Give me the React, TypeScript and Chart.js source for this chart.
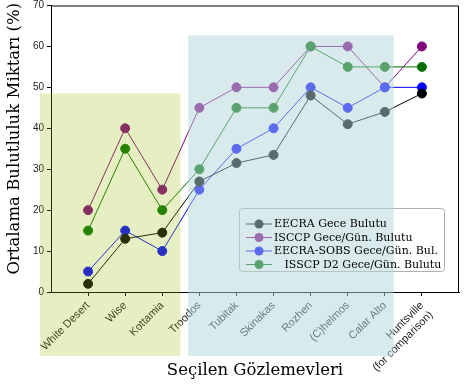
import { useEffect, useRef } from 'react';
import { Chart, registerables } from 'chart.js';

Chart.register(...registerables);

const categories: (string | string[])[] = [
  'White Desert', 'Wise', 'Kottamia', 'Troodos', 'Tubitak', 'Skinakas',
  'Rozhen', '(C)helmos', 'Calar Alto', ['Huntsville', '(for comparison)'],
];

const eecraNight = [2, 13, 14.5, 27, 31.5, 33.5, 48, 41, 44, 48.5];
const isccpDayNight = [20, 40, 25, 45, 50, 50, 60, 60, 50, 60];
const eecraSobs = [5, 15, 10, 25, 35, 40, 50, 45, 50, 50];
const isccpD2 = [15, 35, 20, 30, 45, 45, 60, 55, 55, 55];

const seriesLabels = [
  'EECRA Gece Bulutu',
  'ISCCP Gece/Gün. Bulutu',
  'EECRA-SOBS Gece/Gün. Bul.',
  '   ISSCP D2 Gece/Gün. Bulutu',
];
const seriesColors = ['#000000', '#800080', '#0000ff', '#006f00'];
const seriesValues = [eecraNight, isccpDayNight, eecraSobs, isccpD2];
const drawOrder = [1, 4, 3, 2];

const xTitle = 'Seçilen Gözlemevleri';
const yTitle = 'Ortalama Bulutluluk Miktarı (%)';

// shaded regions (data coordinates) drawn as translucent overlays
const regions = [
  { x0: -1.3, x1: 2.49, y0: -15.6, y1: 48.5, color: 'rgba(152,192,8,0.25)' },
  { x0: 2.7, x1: 8.24, y0: -15.6, y1: 62.7, color: 'rgba(180,214,220,0.5)' },
];

const SERIF = "'DejaVu Serif', serif";
const SANS = "'Liberation Sans', Arial, sans-serif";

function legendBox(chart: any) {
  const a = chart.chartArea;
  const w = 205, h = 63;
  const right = a.right - 15;
  const bottom = a.bottom - 21;
  return { left: right - w, top: bottom - h, w, h };
}

const overlayPlugin = {
  id: 'overlayPlugin',
  afterDatasetsDraw(chart: any) {
    const ctx = chart.ctx as CanvasRenderingContext2D;
    const a = chart.chartArea;
    ctx.save();
    ctx.strokeStyle = '#000';
    ctx.lineWidth = 1;
    ctx.beginPath();
    ctx.moveTo(a.left, a.top + 0.5);
    ctx.lineTo(a.right - 0.5, a.top + 0.5);
    ctx.lineTo(a.right - 0.5, a.bottom);
    ctx.stroke();
    const b = legendBox(chart);
    ctx.fillStyle = '#ffffff';
    ctx.strokeStyle = '#b0b0b0';
    ctx.beginPath();
    (ctx as any).roundRect(b.left + 0.5, b.top + 0.5, b.w, b.h, 3);
    ctx.fill();
    ctx.stroke();
    seriesColors.forEach((c, i) => {
      const y = b.top + 16 + i * 13.5;
      ctx.strokeStyle = c;
      ctx.lineWidth = 1;
      ctx.beginPath();
      ctx.moveTo(b.left + 7, y);
      ctx.lineTo(b.left + 33, y);
      ctx.stroke();
      ctx.fillStyle = c;
      ctx.beginPath();
      ctx.arc(b.left + 20, y, 4.5, 0, Math.PI * 2);
      ctx.fill();
    });
    ctx.restore();
  },
  afterDraw(chart: any) {
    const ctx = chart.ctx as CanvasRenderingContext2D;
    const xs = chart.scales.x;
    const ys = chart.scales.y;
    const a = chart.chartArea;
    ctx.save();
    ctx.save();
    ctx.translate(15, (a.top + a.bottom) / 2 - 10);
    ctx.rotate(-Math.PI / 2);
    ctx.fillStyle = '#000';
    ctx.font = `16.5px ${SERIF}`;
    ctx.textAlign = 'center';
    ctx.textBaseline = 'middle';
    ctx.fillText(yTitle, 0, 0);
    ctx.restore();
    regions.forEach((r) => {
      const x0 = xs.getPixelForValue(r.x0);
      const x1 = xs.getPixelForValue(r.x1);
      const y0 = ys.getPixelForValue(r.y0);
      const y1 = ys.getPixelForValue(r.y1);
      ctx.fillStyle = r.color;
      ctx.fillRect(x0, y1, x1 - x0, y0 - y1);
    });
    const b = legendBox(chart);
    ctx.fillStyle = '#000';
    ctx.font = `11px ${SERIF}`;
    ctx.textBaseline = 'middle';
    ctx.textAlign = 'left';
    seriesLabels.forEach((t, i) => {
      const y = b.top + 16 + i * 13.5;
      ctx.fillText(t, b.left + 35, y + 0.5);
    });
    ctx.restore();
  },
};

export default function App() {
  const ref = useRef<HTMLCanvasElement>(null);
  useEffect(() => {
    document.body.style.margin = '0';
    const datasets = seriesValues.map((vals, i) => ({
      label: seriesLabels[i],
      data: vals.map((v, j) => ({ x: j, y: v })),
      borderColor: seriesColors[i],
      backgroundColor: seriesColors[i],
      pointBackgroundColor: seriesColors[i],
      pointBorderColor: seriesColors[i],
      borderWidth: 1,
      pointRadius: 4.5,
      pointBorderWidth: 1,
      tension: 0,
      fill: false,
      order: drawOrder[i],
    }));
    const chart = new Chart(ref.current!, {
      type: 'line',
      data: { datasets },
      options: {
        animation: false,
        responsive: true,
        maintainAspectRatio: false,
        layout: { padding: { top: 0, right: 6, left: 0, bottom: 0 } },
        plugins: { legend: { display: false }, tooltip: { enabled: false } },
        scales: {
          x: {
            type: 'linear',
            min: -1,
            max: 10,
            afterBuildTicks: (s: any) => {
              s.ticks = categories.map((_, i) => ({ value: i }));
            },
            afterFit: (s: any) => {
              s.height = 96;
            },
            ticks: {
              autoSkip: false,
              maxRotation: 45,
              minRotation: 45,
              color: '#222',
              padding: 3,
              font: { family: SANS, size: 11 },
              callback: (v: any) => categories[Math.round(Number(v))] as any,
            },
            grid: { drawOnChartArea: false, drawTicks: true, tickLength: 4, color: '#000' },
            border: { color: '#000', width: 1 },
            title: {
              display: true,
              text: xTitle,
              color: '#000',
              font: { family: SERIF, size: 16.5 },
              padding: { top: 0, bottom: 7 },
            },
          },
          y: {
            type: 'linear',
            min: 0,
            max: 70,
            afterFit: (s: any) => {
              s.width = 51;
              s.paddingTop = 5;
            },
            ticks: {
              stepSize: 10,
              color: '#222',
              padding: 3,
              font: { family: SANS, size: 10 },
            },
            grid: { drawOnChartArea: false, drawTicks: true, tickLength: 4, color: '#000' },
            border: { color: '#000', width: 1 },
            title: { display: false },
          },
        },
      },
      plugins: [overlayPlugin],
    });
    return () => chart.destroy();
  }, []);
  return (
    <div style={{ width: 465, height: 388, position: 'relative' }}>
      <canvas ref={ref} />
    </div>
  );
}
